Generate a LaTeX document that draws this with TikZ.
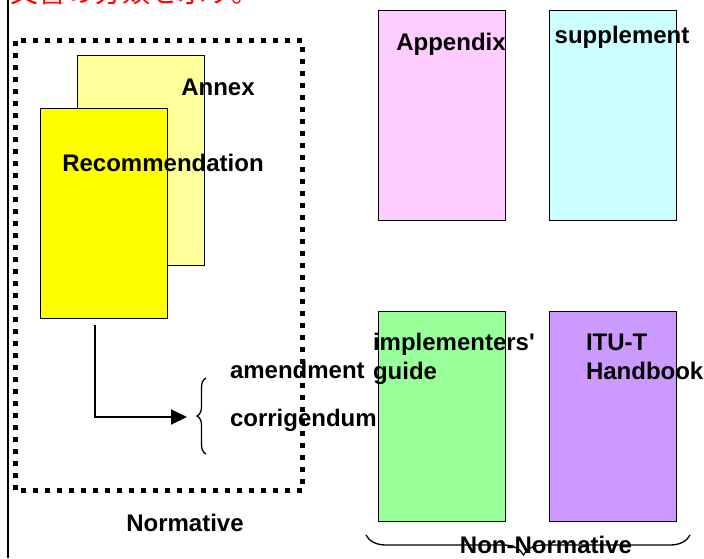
\documentclass[tikz,border=0pt]{standalone}
\usepackage{fontspec}
\setmainfont{Liberation Sans}[Ligatures=TeXOff]
\newfontfamily\jpfont{Noto Sans CJK JP}
\usetikzlibrary{arrows.meta,decorations.pathreplacing}
\definecolor{annexcol}{HTML}{FFFF99}
\definecolor{reccol}{HTML}{FFFF00}
\definecolor{appcol}{HTML}{FFCCFF}
\definecolor{supcol}{HTML}{CCFFFF}
\definecolor{guidecol}{HTML}{99FF99}
\definecolor{handcol}{HTML}{CC99FF}
\definecolor{jpred}{HTML}{FF0000}
\begin{document}
\begin{tikzpicture}[x=1pt,y=-1pt,
  docbox/.style={draw=black,line width=1.6pt,minimum width=127pt,minimum height=210pt,
    inner sep=0pt,outer sep=0pt,anchor=north west},
  lbl/.style={font=\fontsize{24}{29}\selectfont\bfseries,inner sep=0pt,outer sep=0pt},
  dotframe/.style={line width=5pt,dash pattern=on 5pt off 7pt},
  bracestyle/.style={line width=1.3pt,decorate},
  arrowline/.style={line width=2pt,-{Triangle[length=16pt,width=15pt]}}]
\useasboundingbox (0,0) rectangle (704,558);
\clip (0,0) rectangle (704,558);
% documents
\node[docbox,fill=annexcol] (annex) at (77.5,55.5) {};
\node[docbox,fill=reccol] (rec) at (40.5,108.5) {};
\node[docbox,fill=appcol] (app) at (378.5,10.5) {};
\node[docbox,fill=supcol] (sup) at (549.5,10.5) {};
\node[docbox,fill=guidecol] (guide) at (378.5,311.5) {};
\node[docbox,fill=handcol] (hand) at (549.5,311.5) {};
% labels
\node[lbl,anchor=base] (annexlbl) at (218,95) {Annex};
\node[lbl,anchor=base] (reclbl) at (163,171) {Recommendation};
\node[lbl,anchor=base] (applbl) at (451,50) {Appendix};
\node[lbl,anchor=base] (suplbl) at (622,43) {supplement};
\node[lbl,anchor=base west,align=left] (guidelbl) at (373,379) {implementers'\\guide};
\node[lbl,anchor=base west,align=left] (handlbl) at (586,379) {ITU-T\\Handbook};
\node[lbl,anchor=base west] (amdlbl) at (230,378) {amendment};
\node[lbl,anchor=base west] (corlbl) at (230,426) {corrigendum};
\node[lbl,anchor=base] (normlbl) at (185,531) {Normative};
\node[lbl,anchor=base] (nonnormlbl) at (546,553) {Non-Normative};
% normative frame
\draw[dotframe] (15,40.5) rectangle (302.5,490.5);
% braces
\coordinate (lbrbot) at (206,454);
\coordinate (lbrtop) at (206,378);
\draw[bracestyle,decoration={brace,amplitude=9pt,aspect=0.5}] (lbrbot) -- (lbrtop);
\coordinate (bbrleft) at (366,535);
\coordinate (bbrright) at (690,535);
\draw[bracestyle,decoration={brace,mirror,amplitude=20pt,aspect=0.486}] (bbrleft) -- (bbrright);
% arrow
\coordinate (arrstart) at (95,325);
\coordinate (arrend) at (187,417);
\draw[arrowline] (arrstart) |- (arrend);
% left border line
\draw[line width=2pt] (8,0) -- (8,558);
% cut-off title
\node[font=\jpfont\fontsize{28}{28}\selectfont,text=jpred,anchor=base west,inner sep=0pt] (title) at (10,2) {文書の分類を示す。};
\end{tikzpicture}
\end{document}
